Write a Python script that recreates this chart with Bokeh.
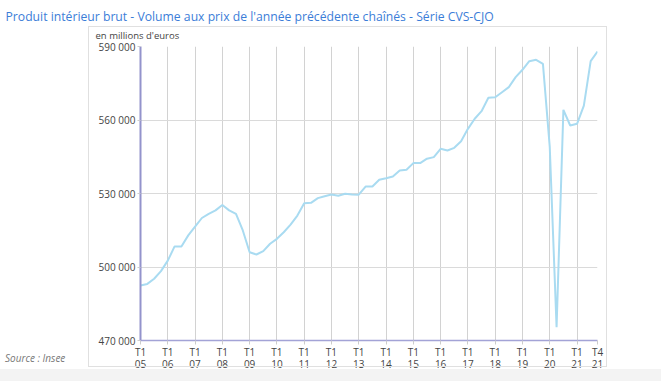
from bokeh.plotting import figure
from bokeh.models import FixedTicker, Range1d, Title, Div, InlineStyleSheet
from bokeh.layouts import column
from bokeh.embed import file_html
from bokeh.resources import INLINE

# Quarterly GDP, millions of euros, 2005 Q1 .. 2021 Q4
years = list(range(2005, 2022))
gdp = [
    492450, 493100, 495200, 498300,   # 2005
    502600, 508400, 508400, 512900,   # 2006
    516500, 520000, 521700, 523100,   # 2007
    525300, 523100, 521700, 514900,   # 2008
    506000, 505100, 506450, 509500,   # 2009
    511500, 514200, 517300, 521000,   # 2010
    526050, 526200, 528100, 528900,   # 2011
    529600, 529100, 529900, 529600,   # 2012
    529500, 532850, 532850, 535600,   # 2013
    536250, 536950, 539400, 539700,   # 2014
    542400, 542400, 544200, 544850,   # 2015
    548250, 547550, 548650, 551350,   # 2016
    556400, 560500, 563600, 569050,   # 2017
    569300, 571350, 573400, 577500,   # 2018
    580500, 584000, 584550, 582900,   # 2019
    549000, 475450, 564150, 557750,   # 2020
    558450, 565900, 584000, 587950,   # 2021
]
x_ticks = [y for y in years] + [2021.75]
x_tick_labels = ["T1\n%02d" % (y % 100) for y in years] + ["T4\n21"]
y_ticks = [470000, 500000, 530000, 560000, 590000]
y_tick_labels = ["470 000", "500 000", "530 000", "560 000", "590 000"]

title_text = "Produit intérieur brut - Volume aux prix de l'année précédente chaînés - Série CVS-CJO"
unit_text = "en millions d'euros"
source_text = "Source : Insee"

xs = [y + q / 4 for y in years for q in range(4)]

FONT = "Open Sans"

card_css = """
:host::before {
  content: ""; position: absolute; z-index: 5; pointer-events: none;
  left: 0px; top: 369px; width: 661px; height: 12px; background: #f3f3f3;
}
:host::after {
  content: ""; position: absolute; z-index: 6; pointer-events: none;
  left: 88px; top: 26px; width: 519px; height: 341px;
  border: 1px solid #e0e0e0;
}
"""

p = figure(width=661, height=381, output_backend="svg", toolbar_location=None,
           x_range=Range1d(2005, 2021.75), y_range=Range1d(470000, 590000),
           min_border_left=140, min_border_right=64, min_border_top=46, min_border_bottom=41)
p.stylesheets = [InlineStyleSheet(css=card_css)]
p.outline_line_color = None
p.background_fill_color = "white"
p.border_fill_color = "white"

p.line(xs, gdp, line_color="#a9dbf1", line_width=2)

# axes
p.xaxis.ticker = FixedTicker(ticks=x_ticks)
p.xaxis.major_label_overrides = {t: l for t, l in zip(x_ticks, x_tick_labels)}
p.xaxis.minor_tick_line_color = None
p.xaxis.major_tick_in = 0
p.xaxis.major_tick_out = 4
p.xaxis.major_tick_line_color = "#cccccc"
p.xaxis.axis_line_color = "#a3a3d6"
p.xaxis.axis_line_width = 1.5
p.xaxis.major_label_text_font = FONT
p.xaxis.major_label_text_font_size = "10px"
p.xaxis.major_label_text_line_height = 0.9
p.xaxis.major_label_text_color = "#444444"
p.xaxis.major_label_standoff = 0

p.yaxis.ticker = FixedTicker(ticks=y_ticks)
p.yaxis.major_label_overrides = {t: l for t, l in zip(y_ticks, y_tick_labels)}
p.yaxis.minor_tick_line_color = None
p.yaxis.major_tick_in = 0
p.yaxis.major_tick_out = 3
p.yaxis.major_tick_line_color = "#cccccc"
p.yaxis.axis_line_color = "#9393cc"
p.yaxis.axis_line_width = 2
p.yaxis.major_label_text_font = FONT
p.yaxis.major_label_text_font_size = "10px"
p.yaxis.major_label_text_color = "#444444"
p.yaxis.major_label_standoff = 2

p.xgrid.ticker = FixedTicker(ticks=x_ticks)
p.xgrid.grid_line_color = "#d2d2d2"
p.ygrid.ticker = FixedTicker(ticks=y_ticks)
p.ygrid.grid_line_color = "#dadada"

p.add_layout(Title(text=unit_text, text_font=FONT, text_font_size="9.5px",
                   text_color="#444444", text_font_style="normal", align="left",
                   offset=-45, standoff=9), "above")
p.add_layout(Title(text=title_text, text_font=FONT, text_font_size="12.2px",
                   text_color="#3b7dd8", text_font_style="normal", align="left",
                   offset=-135, standoff=-4), "above")

src = Div(text=source_text, width=100, height=14, margin=(-30, 0, 0, 5),
          styles={"font-family": "Open Sans", "font-size": "10px", "font-style": "italic",
                  "color": "#777777", "line-height": "14px", "z-index": "7"})

root = column(p, src, spacing=0)

open("out.html", "w").write(file_html(root, INLINE))
